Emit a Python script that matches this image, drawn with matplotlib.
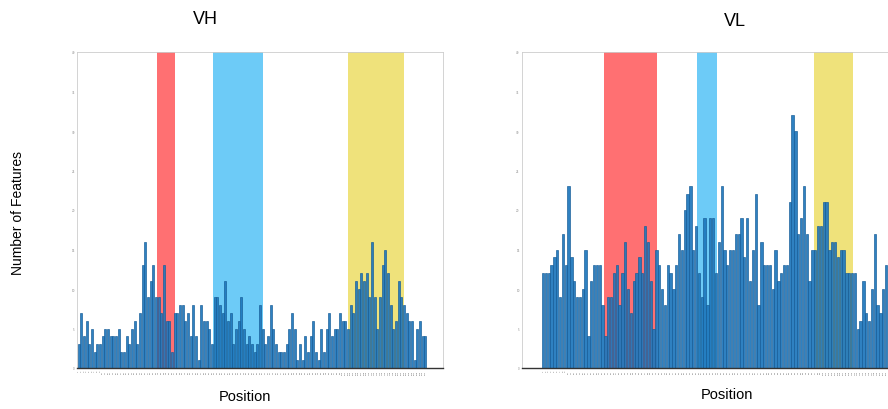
import numpy as np
import matplotlib
matplotlib.use("Agg")
import matplotlib.pyplot as plt

# feature counts per position
vh_counts = [3, 7, 4, 6, 3, 5, 2, 3, 3, 4,
             5, 5, 4, 4, 4, 5, 2, 2, 4, 3,
             5, 6, 3, 7, 13, 16, 9, 11, 13, 9,
             9, 7, 13, 6, 6, 2, 7, 7, 8, 8,
             6, 7, 4, 8, 4, 1, 8, 6, 6, 5,
             3, 9, 9, 8, 7, 11, 6, 7, 3, 5,
             6, 9, 5, 3, 4, 3, 2, 3, 8, 5,
             3, 4, 8, 5, 3, 2, 2, 2, 3, 5,
             7, 5, 1, 3, 1, 4, 2, 4, 6, 2,
             1, 5, 2, 5, 7, 4, 5, 5, 7, 6,
             6, 5, 8, 7, 11, 10, 12, 11, 12, 9,
             16, 9, 5, 9, 13, 15, 12, 8, 5, 6,
             11, 9, 8, 7, 6, 6, 1, 5, 6, 4, 4]

vl_counts = [12, 12, 12, 13, 14, 15, 9, 17, 13, 23,
             14, 11, 9, 9, 10, 15, 4, 11, 13, 13,
             13, 8, 4, 9, 9, 12, 13, 8, 12, 16,
             10, 7, 11, 12, 14, 12, 18, 16, 11, 5,
             15, 13, 10, 8, 13, 12, 10, 13, 17, 15,
             20, 22, 23, 15, 18, 12, 9, 19, 8, 19,
             19, 12, 16, 23, 15, 13, 15, 15, 17, 17,
             19, 14, 19, 11, 15, 22, 8, 16, 13, 13,
             13, 10, 15, 11, 12, 13, 13, 21, 32, 30,
             17, 19, 23, 17, 11, 15, 15, 18, 18, 21,
             21, 15, 16, 16, 14, 15, 15, 12, 12, 12,
             12, 5, 6, 11, 7, 6, 10, 17, 8, 7, 10, 13]

# highlighted regions (in bar index units): start, end
vh_regions = [(29.4, 36.1), (50.4, 69.1), (101.0, 122.0)]
vl_regions = [(21.6, 40.1), (54.2, 61.5), (95.6, 109.3)]
region_colors = ["#ff7072", "#6dcbf7", "#efe27b"]

y_ticks = [0, 5, 10, 15, 20, 25, 30, 35, 40]


def position_labels(n):
    # tiny position labels under every bar
    return [str(i + 1) for i in range(n)]


def draw_panel(ax, counts, regions, xlim):
    x = np.arange(len(counts))
    for (a, b), c in zip(regions, region_colors):
        ax.axvspan(a, b, color=c, zorder=0, lw=0)
    ax.bar(x, counts, width=0.82, color="#1f78bd", edgecolor="#165c96",
           linewidth=0.5, alpha=0.93, zorder=2)
    ax.set_xlim(*xlim)
    ax.set_ylim(0, 40)
    ax.set_yticks(y_ticks)
    ax.set_yticklabels([str(t) for t in y_ticks], fontsize=2, color="#888888")
    ax.set_xticks(x)
    ax.set_xticklabels(position_labels(len(counts)), fontsize=1.6,
                       rotation=90, color="#666666")
    ax.tick_params(axis="both", length=0, pad=1.5)
    for s in ["top", "left", "right"]:
        ax.spines[s].set_color("#cccccc")
        ax.spines[s].set_linewidth(0.6)
    ax.spines["bottom"].set_color("#333333")
    ax.spines["bottom"].set_linewidth(1.0)


fig = plt.figure(figsize=(8.88, 4.10), dpi=100)

ax1 = fig.add_axes([77 / 888, 1 - 369 / 410, 366 / 888, 316 / 410])
draw_panel(ax1, vh_counts, vh_regions, (-0.6, 136.6))

ax2 = fig.add_axes([521.7 / 888, 1 - 369 / 410, 368.3 / 888, 316 / 410])
draw_panel(ax2, vl_counts, vl_regions, (-7.56, 122.4))

font = "Liberation Sans"
fig.text(205 / 888, 1 - 20 / 410, "VH", ha="center", va="center",
         fontsize=13, family=font)
fig.text(735 / 888, 1 - 22 / 410, "VL", ha="center", va="center",
         fontsize=13, family=font)
fig.text(245 / 888, 1 - 397 / 410, "Position", ha="center", va="center",
         fontsize=10.5, family=font)
fig.text(727 / 888, 1 - 395 / 410, "Position", ha="center", va="center",
         fontsize=10.5, family=font)
fig.text(18 / 888, 1 - 213 / 410, "Number of Features", ha="center",
         va="center", rotation=90, fontsize=10, family=font)

fig.savefig("out.png", dpi=100)
